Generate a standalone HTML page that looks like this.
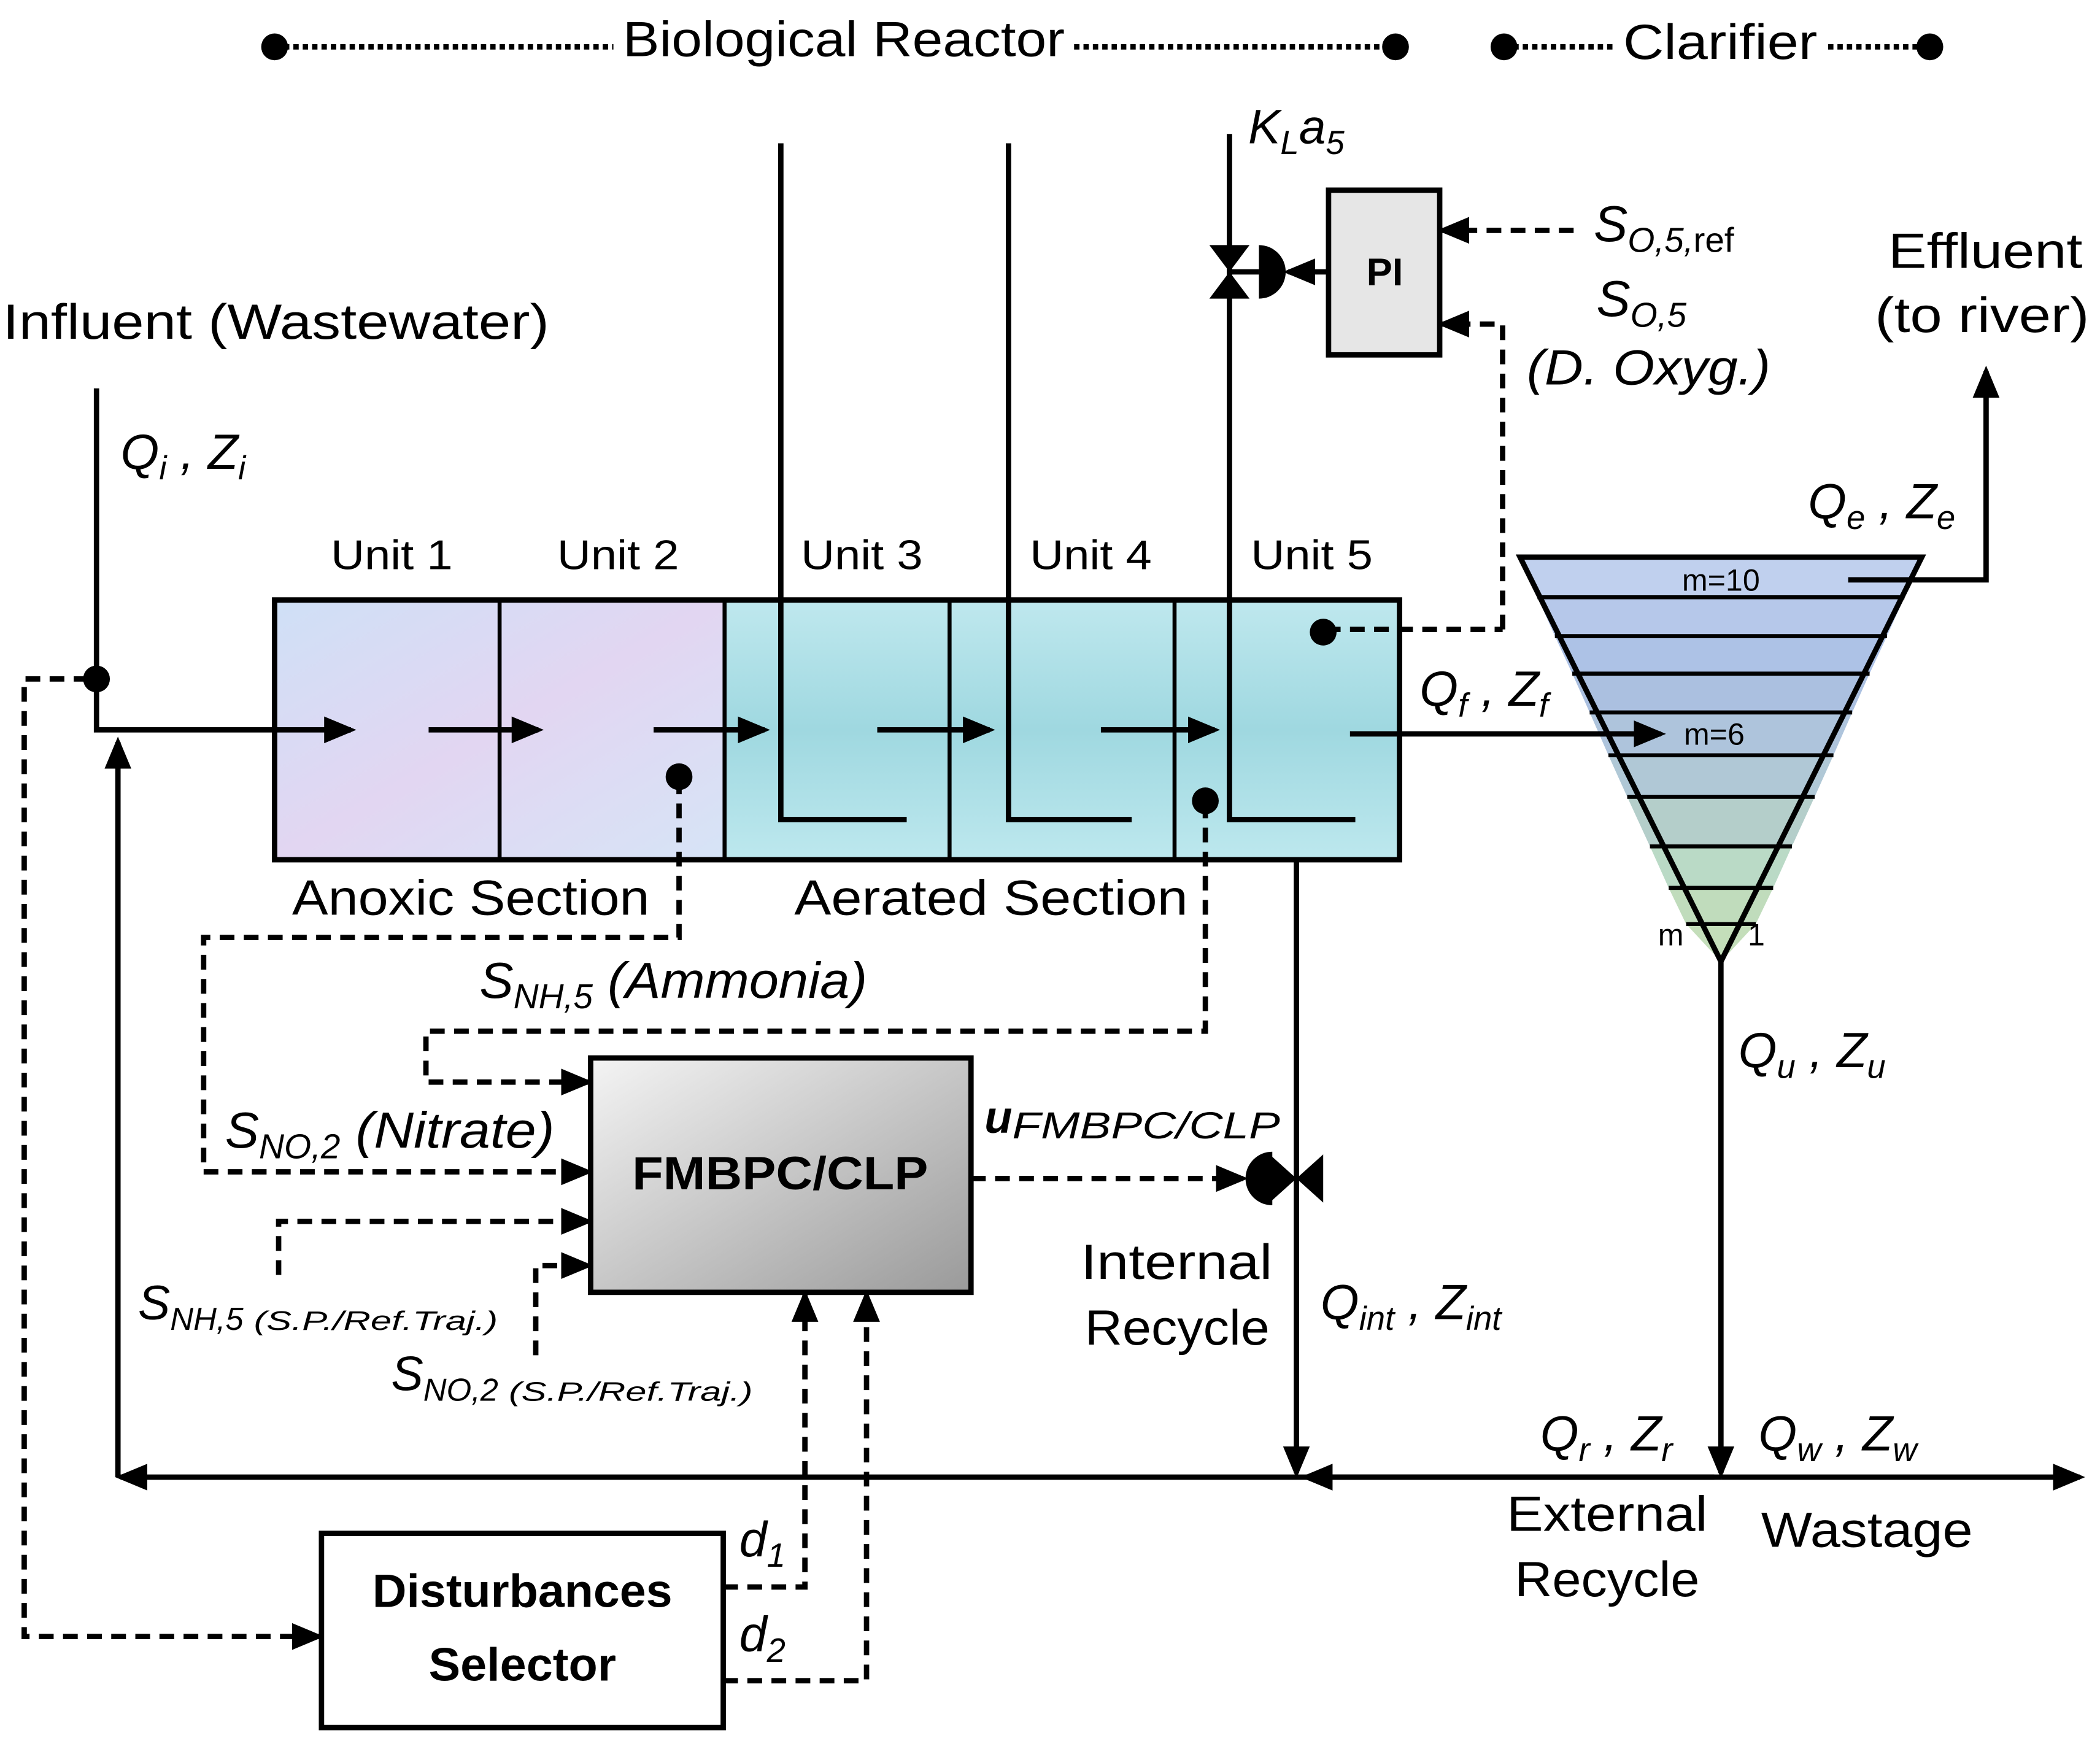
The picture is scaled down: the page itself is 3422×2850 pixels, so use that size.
<!DOCTYPE html>
<html><head><meta charset="utf-8"><style>
html,body{margin:0;padding:0;background:#fff}
svg{display:block}
text{font-family:"Liberation Sans",sans-serif;fill:#000}
.i{font-style:italic}
</style></head><body>
<svg width="3422" height="2850" viewBox="0 0 1568 1306" xmlns="http://www.w3.org/2000/svg">
<defs>
<linearGradient id="pk" x1="0" y1="0" x2="1" y2="1"><stop offset="0" stop-color="#cfe0f6"/><stop offset=".5" stop-color="#e2d6f2"/><stop offset="1" stop-color="#d6e4f6"/></linearGradient>
<linearGradient id="cy" x1="0" y1="0" x2="0" y2="1"><stop offset="0" stop-color="#bfe8ee"/><stop offset=".5" stop-color="#9fd8e0"/><stop offset="1" stop-color="#bde8ee"/></linearGradient>
<linearGradient id="gr" x1="0" y1="0" x2="1" y2="1"><stop offset="0" stop-color="#f4f4f4"/><stop offset="1" stop-color="#9a9a9a"/></linearGradient>
<marker id="b" markerWidth="24" markerHeight="24" refX="20" refY="12" orient="auto" markerUnits="userSpaceOnUse" viewBox="0 0 24 24"><path d="M0,2 L24,12 L0,22z" fill="#000"/></marker>
</defs>

<!-- header -->
<g stroke="#000" stroke-width="4" stroke-dasharray="4,3">
<line x1="205" y1="35" x2="458" y2="35"/><line x1="802" y1="35" x2="1040" y2="35"/>
<line x1="1123" y1="35" x2="1205" y2="35"/><line x1="1365" y1="35" x2="1440" y2="35"/>
</g>
<g fill="#000"><circle cx="205" cy="35" r="10"/><circle cx="1042" cy="35" r="10"/><circle cx="1123" cy="35" r="10"/><circle cx="1441" cy="35" r="10"/></g>
<text x="465" y="42" font-size="37" textLength="330" lengthAdjust="spacingAndGlyphs">Biological Reactor</text>
<text x="1212" y="44" font-size="37" textLength="145" lengthAdjust="spacingAndGlyphs">Clarifier</text>

<!-- reactor -->
<rect x="205" y="448" width="336" height="194" fill="url(#pk)"/>
<rect x="541" y="448" width="504" height="194" fill="url(#cy)"/>
<rect x="205" y="448" width="840" height="194" fill="none" stroke="#000" stroke-width="4"/>
<g stroke="#000" stroke-width="3"><line x1="373" y1="448" x2="373" y2="642"/><line x1="541" y1="448" x2="541" y2="642"/><line x1="709" y1="448" x2="709" y2="642"/><line x1="877" y1="448" x2="877" y2="642"/></g>
<g font-size="31"><text x="247" y="425" textLength="91" lengthAdjust="spacingAndGlyphs">Unit 1</text><text x="416" y="425" textLength="91" lengthAdjust="spacingAndGlyphs">Unit 2</text><text x="598" y="425" textLength="91" lengthAdjust="spacingAndGlyphs">Unit 3</text><text x="769" y="425" textLength="91" lengthAdjust="spacingAndGlyphs">Unit 4</text><text x="934" y="425" textLength="91" lengthAdjust="spacingAndGlyphs">Unit 5</text></g>
<text x="218" y="683" font-size="37" textLength="267" lengthAdjust="spacingAndGlyphs">Anoxic Section</text>
<text x="593" y="683" font-size="37" textLength="294" lengthAdjust="spacingAndGlyphs">Aerated Section</text>

<g stroke="#000" stroke-width="4" fill="none">
<path d="M583,107 V612 H677"/><path d="M753,107 V612 H845"/><path d="M918,100 V612 H1012"/>
<path d="M72,290 V545 H262" marker-end="url(#b)"/>
<line x1="320" y1="545" x2="402" y2="545" marker-end="url(#b)"/>
<line x1="488" y1="545" x2="571" y2="545" marker-end="url(#b)"/>
<line x1="655" y1="545" x2="739" y2="545" marker-end="url(#b)"/>
<line x1="822" y1="545" x2="907" y2="545" marker-end="url(#b)"/>
</g>
<text x="90" y="350" font-size="37" class="i">Q<tspan font-size="25" dy="8">i</tspan><tspan dy="-8"> , Z</tspan><tspan font-size="25" dy="8">i</tspan></text>
<text x="2" y="253" font-size="37" textLength="408" lengthAdjust="spacingAndGlyphs">Influent (Wastewater)</text>
<text x="1060" y="527" font-size="37" class="i">Q<tspan font-size="25" dy="8">f</tspan><tspan dy="-8"> , Z</tspan><tspan font-size="25" dy="8">f</tspan></text>
<text x="932" y="107" font-size="36" class="i">K<tspan font-size="25" dy="8">L</tspan><tspan dy="-8">a</tspan><tspan font-size="25" dy="8">5</tspan></text>

<!-- clarifier -->
<polygon points="1135,416 1435,416 1422,446 1148,446" fill="#c0d0ee"/>
<polygon points="1148,446 1422,446 1409,475 1161,475" fill="#b6c8ea"/>
<polygon points="1161,475 1409,475 1396,503 1174,503" fill="#adc2e6"/>
<polygon points="1174,503 1396,503 1383,532 1187,532" fill="#abc0e0"/>
<polygon points="1187,532 1383,532 1369,564 1201,564" fill="#aec4dc"/>
<polygon points="1201,564 1369,564 1355,595 1215,595" fill="#b0c8d6"/>
<polygon points="1215,595 1355,595 1338,632 1232,632" fill="#b4ceca"/>
<polygon points="1232,632 1338,632 1324,663 1246,663" fill="#badac6"/>
<polygon points="1246,663 1324,663 1311,690 1259,690" fill="#c0dcbc"/>
<polygon points="1259,690 1311,690 1285,718" fill="#c4deba"/>
<g stroke="#000" stroke-width="3"><line x1="1148" y1="446" x2="1422" y2="446"/><line x1="1161" y1="475" x2="1409" y2="475"/><line x1="1174" y1="503" x2="1396" y2="503"/><line x1="1187" y1="532" x2="1383" y2="532"/><line x1="1201" y1="564" x2="1369" y2="564"/><line x1="1215" y1="595" x2="1355" y2="595"/><line x1="1232" y1="632" x2="1338" y2="632"/><line x1="1246" y1="663" x2="1324" y2="663"/><line x1="1259" y1="690" x2="1311" y2="690"/></g>
<polygon points="1135,416 1435,416 1285,718" fill="none" stroke="#000" stroke-width="4"/>
<text x="1285" y="441" font-size="23" text-anchor="middle">m=10</text>
<text x="1280" y="556" font-size="23" text-anchor="middle">m=6</text>
<text x="1238" y="706" font-size="23">m</text><text x="1305" y="706" font-size="23">1</text>
<line x1="1008" y1="548" x2="1240" y2="548" stroke="#000" stroke-width="4" marker-end="url(#b)"/>
<path d="M1380,433 H1483 V277" stroke="#000" stroke-width="4" fill="none" marker-end="url(#b)"/>
<text x="1410" y="200" font-size="37" textLength="145" lengthAdjust="spacingAndGlyphs">Effluent</text>
<text x="1400" y="248" font-size="37" textLength="160" lengthAdjust="spacingAndGlyphs">(to river)</text>
<text x="1350" y="387" font-size="37" class="i">Q<tspan font-size="25" dy="8">e</tspan><tspan dy="-8"> , Z</tspan><tspan font-size="25" dy="8">e</tspan></text>
<line x1="1285" y1="718" x2="1285" y2="1100" stroke="#000" stroke-width="4" marker-end="url(#b)"/>
<text x="1298" y="797" font-size="37" class="i">Q<tspan font-size="25" dy="8">u</tspan><tspan dy="-8"> , Z</tspan><tspan font-size="25" dy="8">u</tspan></text>

<!-- bottom lines -->
<g stroke="#000" stroke-width="4" fill="none">
<line x1="1285" y1="1103" x2="90" y2="1103" marker-end="url(#b)"/>
<line x1="1285" y1="1103" x2="1553" y2="1103" marker-end="url(#b)"/>
<line x1="1280" y1="1103" x2="975" y2="1103" marker-end="url(#b)"/>
<line x1="88" y1="1103" x2="88" y2="554" marker-end="url(#b)"/>
<line x1="968" y1="642" x2="968" y2="1100" marker-end="url(#b)"/>
</g>
<text x="1150" y="1083" font-size="37" class="i">Q<tspan font-size="25" dy="8">r</tspan><tspan dy="-8"> , Z</tspan><tspan font-size="25" dy="8">r</tspan></text>
<text x="1313" y="1083" font-size="37" class="i">Q<tspan font-size="25" dy="8">w</tspan><tspan dy="-8"> , Z</tspan><tspan font-size="25" dy="8">w</tspan></text>
<text x="1125" y="1143" font-size="37" textLength="150" lengthAdjust="spacingAndGlyphs">External</text>
<text x="1131" y="1192" font-size="37" textLength="138" lengthAdjust="spacingAndGlyphs">Recycle</text>
<text x="1315" y="1155" font-size="37" textLength="158" lengthAdjust="spacingAndGlyphs">Wastage</text>
<text x="807" y="955" font-size="37" textLength="143" lengthAdjust="spacingAndGlyphs">Internal</text>
<text x="810" y="1004" font-size="37" textLength="138" lengthAdjust="spacingAndGlyphs">Recycle</text>
<text x="986" y="985" font-size="37" class="i">Q<tspan font-size="25" dy="8">int</tspan><tspan dy="-8"> , Z</tspan><tspan font-size="25" dy="8">int</tspan></text>

<!-- PI & valve -->
<rect x="992" y="142" width="83" height="123" fill="#e6e6e6" stroke="#000" stroke-width="4"/>
<text x="1034" y="213" font-size="29" font-weight="bold" text-anchor="middle">PI</text>
<polygon points="903,183 933,183 918,203" fill="#000"/><polygon points="903,223 933,223 918,203" fill="#000"/>
<path d="M940,183 A20,20 0 0 1 940,223 Z" fill="#000"/>
<line x1="918" y1="203" x2="940" y2="203" stroke="#000" stroke-width="4"/>
<line x1="992" y1="203" x2="962" y2="203" stroke="#000" stroke-width="4" marker-end="url(#b)"/>
<g stroke="#000" stroke-width="4" fill="none" stroke-dasharray="11,7">
<line x1="1175" y1="172" x2="1077" y2="172" marker-end="url(#b)"/>
<path d="M1122,470 V242 H1077" marker-end="url(#b)"/>
<line x1="990" y1="470" x2="1122" y2="470"/>
</g>
<circle cx="988" cy="472" r="10" fill="#000"/>
<text x="1190" y="180" font-size="38" class="i">S<tspan font-size="26" dy="8">O,5,</tspan><tspan font-size="26" font-style="normal">ref</tspan></text>
<text x="1192" y="236" font-size="38" class="i">S<tspan font-size="26" dy="8">O,5</tspan></text>
<text x="1140" y="287" font-size="37" class="i" textLength="182" lengthAdjust="spacingAndGlyphs">(D. Oxyg.)</text>

<!-- FMBPC -->
<rect x="441" y="790" width="284" height="175" fill="url(#gr)" stroke="#000" stroke-width="4"/>
<text x="472" y="888" font-size="35" font-weight="bold" textLength="221" lengthAdjust="spacingAndGlyphs">FMBPC/CLP</text>
<rect x="240" y="1145" width="300" height="145" fill="#fff" stroke="#000" stroke-width="4"/>
<text x="278" y="1200" font-size="35" font-weight="bold" textLength="224" lengthAdjust="spacingAndGlyphs">Disturbances</text>
<text x="320" y="1255" font-size="35" font-weight="bold" textLength="140" lengthAdjust="spacingAndGlyphs">Selector</text>

<g stroke="#000" stroke-width="4" fill="none" stroke-dasharray="11,7">
<path d="M66,507 H18 V1222 H238" marker-end="url(#b)"/>
<path d="M507,582 V700 H152 V875 H439" marker-end="url(#b)"/>
<path d="M900,600 V770 H318 V808 H439" marker-end="url(#b)"/>
<path d="M208,952 V912 H439" marker-end="url(#b)"/>
<path d="M400,1012 V945 H439" marker-end="url(#b)"/>
<path d="M540,1185 H601 V967" marker-end="url(#b)"/>
<path d="M540,1255 H647 V967" marker-end="url(#b)"/>
<line x1="725" y1="880" x2="928" y2="880" marker-end="url(#b)"/>
</g>
<g fill="#000"><circle cx="72" cy="507" r="10"/><circle cx="507" cy="580" r="10"/><circle cx="900" cy="598" r="10"/></g>
<!-- internal recycle valve -->
<polygon points="948,862 948,898 968,880" fill="#000"/><polygon points="988,862 988,898 968,880" fill="#000"/>
<path d="M950,860 A20,20 0 0 0 950,900 Z" fill="#000"/>
<line x1="950" y1="880" x2="968" y2="880" stroke="#000" stroke-width="4"/>

<text x="358" y="745" font-size="38" class="i">S<tspan font-size="26" dy="8">NH,5</tspan><tspan dy="-8" textLength="205" lengthAdjust="spacingAndGlyphs"> (Ammonia)</tspan></text>
<text x="168" y="857" font-size="38" class="i">S<tspan font-size="26" dy="8">NO,2</tspan><tspan dy="-8" textLength="160" lengthAdjust="spacingAndGlyphs"> (Nitrate)</tspan></text>
<text x="735" y="846" font-size="34" class="i" font-weight="bold" font-family="Liberation Serif">u<tspan font-size="28" dy="4" font-weight="normal" textLength="200" lengthAdjust="spacingAndGlyphs">FMBPC/CLP</tspan></text>
<text x="103" y="985" font-size="36" class="i">S<tspan font-size="24" dy="8">NH,5</tspan><tspan font-size="20" textLength="190" lengthAdjust="spacingAndGlyphs"> (S.P./Ref.Traj.)</tspan></text>
<text x="292" y="1038" font-size="36" class="i">S<tspan font-size="24" dy="8">NO,2</tspan><tspan font-size="20" textLength="190" lengthAdjust="spacingAndGlyphs"> (S.P./Ref.Traj.)</tspan></text>
<text x="552" y="1162" font-size="37" class="i">d<tspan font-size="25" dy="8">1</tspan></text>
<text x="552" y="1233" font-size="37" class="i">d<tspan font-size="25" dy="8">2</tspan></text>
</svg>
</body></html>
